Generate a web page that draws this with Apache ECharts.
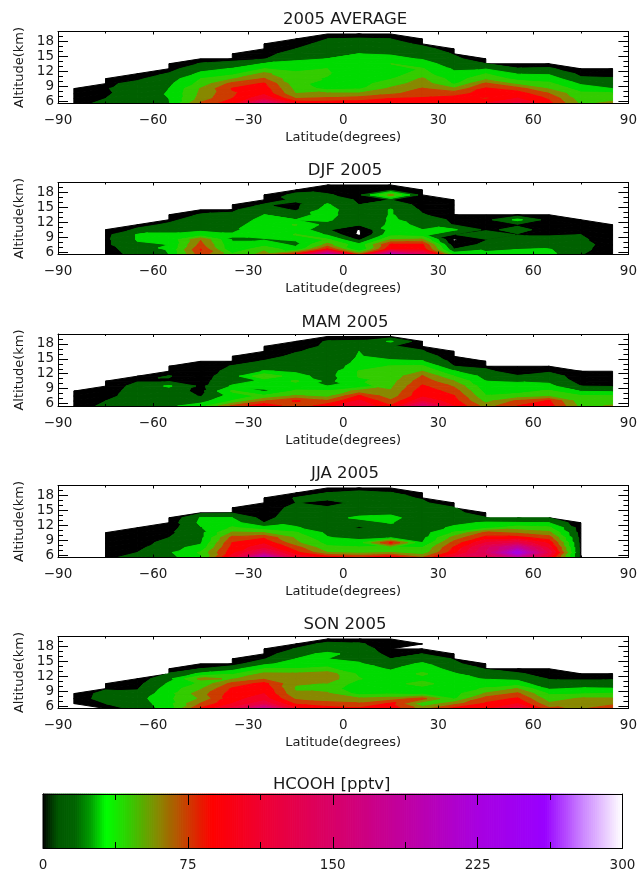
<!DOCTYPE html>
<html>
<head>
<meta charset="utf-8">
<style>html,body{margin:0;padding:0;background:#fff}#c{width:640px;height:872px}</style>
<script src="https://cdn.jsdelivr.net/npm/echarts@6/dist/echarts.min.js"></script>
</head>
<body>
<div id="c"></div>
<script>
// Latitude column centres and altitude levels of the retrieval grid
const latitudes = [-85,-75,-65,-55,-45,-35,-25,-15,-5,5,15,25,35,45,55,65,75,85];
const altitudes = [5.5,6.5,7.5,8.5,9.5,10.5,11.5,12.5,13.5,14.5,15.5,16.5,17.5,18.5,19.5];
const xTickLabels = [-90,-60,-30,0,30,60,90];
const yMajorTicks = [6,9,12,15,18];
const yMinorTicks = [6,7,8,9,10,11,12,13,14,15,16,17,18,19,20];
const barTicks = [0,75,150,225,300];

// HCOOH (pptv): one profile per latitude, lowest altitude first. Negative = below the scale.
const avgProfiles = [
 [10,8,7,5],
 [19,15,13,14,13,9],
 [24,24,23,22,18,13,8],
 [29,30,31,30,27,22,16,10,6],
 [78,66,63,61,50,45,33,25,16,9],
 [100,90,88,91,80,58,40,31,19,11,5],
 [165,118,102,98,92,76,64,45,31,14,10,7,5],
 [105,75,60,55,50,48,47,42,33,28,22,15,10,6],
 [100,78,62,40,38,44,46,45,35,30,27,24,20,15,9],
 [100,82,62,43,40,38,37,38,37,34,30,26,22,16,10],
 [98,90,72,63,52,44,40,42,45,33,29,25,21,15,8],
 [100,92,82,76,68,62,50,46,36,29,24,20,12,6],
 [105,95,85,62,43,38,33,28,23,18,14,8],
 [105,88,95,92,78,55,45,29,15,7],
 [125,106,98,82,55,40,29,16,8],
 [95,88,75,58,48,38,28,17,9],
 [57,52,48,38,28,17,12,7],
 [64,55,47,30,22,16,12,7]
];
const djfProfiles = [
 [],
 [8,10,12,12,11,6],
 [20,22,28,31,31,17,11],
 [30,31,30,33,31,28,17,12,8],
 [84,91,80,74,34,28,24,21,16,10],
 [48,33,32,29,31,28,25,22,17,13,7],
 [65,58,38,29,33,36,37,34,30,24,16,10,5],
 [95,35,27,31,46,40,46,30,24,13,12,17,19,9],
 [215,95,65,47,28,17,24,33,36,37,32,24,16,12,7],
 [75,30,34,12,-2,-1,16,15,18,17,15,13,11,9,6],
 [215,105,92,60,40,36,33,32,31,31,25,15,65,12,6],
 [150,100,92,62,35,30,28,24,16,13,10,9,7,5],
 [42,16,5,-2,14,32,14,12,8,6,5,4],
 [33,28,19,14,27,12,12,10,5],
 [33,30,26,30,14,19,13,34,7],
 [33,31,22,18,14,10,9,8,5],
 [16,20,22,18,15,11,8,5],
 [5,5,6,6,5,5,4]
];
const mamProfiles = [
 [4,4,4,3],
 [20,15,10,8,6,4],
 [24,24,23,22,20,14,8],
 [27,26,24,22,32,14,15.5,10,6],
 [38,24,14,11,12,11,10,9,7,5],
 [78,46,37,47,32,24,22,19,16,9,5],
 [105,74,48,28,33,33,58,31,22,16,10,7,4],
 [78,92,62,47,38,47,35,28,24,22,18,14,10,6],
 [100,78,55,46,30,26,24,22,21,20,20,19,17,16,8],
 [118,108,92,65,35,42,46,46,37,33,31,30,22,17,8],
 [92,78,66,61,57,54,50,47,46,33,24,18,16,32,8],
 [160,118,102,100,92,84,76,60,47,31,23,16,12,6],
 [105,96,91,83,73,60,45,31,15,11,7,5],
 [68,55,46,40,35,30,25,17,13,6],
 [90,78,50,40,33,29,16,10,5],
 [97,92,57,47,34,27,22,13,8],
 [55,50,47,29,15,10,8,5],
 [62,53,46,28,14,9,7,5]
];
const jjaProfiles = [
 [],
 [12,9,7,6,5,4],
 [20,15,11,9,7,5,4],
 [25,28,26,20,15,12,9,7,4],
 [42,47,34,28,26,26,29,33,31,12],
 [115,100,95,90,80,62,47,36,30,14,6],
 [215,150,115,102,88,60,35,15,10,8,6,5,4],
 [118,95,82,63,58,47,31,27,24,22,20,15,16,5],
 [100,60,48,40,31,27,25,24,24,20,16,12,17,15.5,8],
 [90,55,46,38,25,23,13,22,33,24,20,17,21,20,8],
 [105,60,47,93,29,24,23,31,35,26,22,21,18,16,8],
 [75,50,45,30,26,24,22,21,20,18,18,17,14,6],
 [125,100,92,80,66,47,33,26,22,19,16,7],
 [130,150,145,120,95,78,40,32,16,7],
 [180,240,190,135,95,72,52,31,15],
 [110,130,115,100,82,64,48,30,15],
 [10,10,10,10,10,9,8,5],
 []
];
const sonProfiles = [
 [null,5,6,5],
 [10,15,22,21,13,7],
 [18,21,24,18,14,11,7],
 [38,40,42,40,37,32,26,16,8],
 [92,76,62,68,58,48,64,33,15,8],
 [125,105,100,97,92,80,58,42,24,9,5],
 [185,130,112,105,102,95,72,63,45,26,14,9,5],
 [108,87,72,62,58,61,65,62,45,38,30,24,16,8],
 [98,78,70,62,54,59,68,68,48,40,30,34,21,19,7],
 [92,76,62,40,33,38,46,42,34,31,28,24,21,17,8],
 [100,92,66,43,36,40,36,33,29,24,15,11,9,7,5],
 [68,48,80,40,40,50,40,48,36,32,24,15,9,4],
 [95,68,43,40,37,36,34,31,26,18,14,6],
 [100,92,82,62,47,37,29,22,14,6],
 [130,105,92,78,60,36,27,17,8],
 [78,62,52,43,28,20,14,9,5],
 [72,68,62,44,32,18,14,5],
 [88,70,62,46,31,20,14,6]
];

const panelTitles = ['2005 AVERAGE','DJF 2005','MAM 2005','JJA 2005','SON 2005'];
const panelProfiles = [avgProfiles,djfProfiles,mamProfiles,jjaProfiles,sonProfiles];
// Grid cells [latitude, altitude] where the retrieval has no data
const gapCells = [
 [[-45,14.5],[45,13.5]],
 [[-45,14.5],[35,13.5]],
 [[-45,14.5],[45,13.5]],
 [[-45,14.5],[45,13.5]],
 [[-45,14.5],[45,13.5]]
];
const lowerRightGaps = [[],[],[],[],[[15,17.5]]];

// Colour table of the colour bar
const rampValues = [0,4,8,17,25,33,45,60,75,88,112,150,187,225,260,280,300];
const rampColors = ['#000000','#003000','#005800','#006400','#00a000','#00ff00','#33cc00','#888800','#cc3c00','#ff0000','#f00030','#d80068','#c000a0','#a800e0','#9900ff','#cc88ff','#ffffff'];
const contourStep = 15;

function hex(c){return [1,3,5].map(i=>parseInt(c.substr(i,2),16));}
function ramp(v){
  for(let i=1;i<rampValues.length;i++){
    if(v<=rampValues[i]){
      const t=(v-rampValues[i-1])/(rampValues[i]-rampValues[i-1]);
      const a=hex(rampColors[i-1]),b=hex(rampColors[i]);
      return 'rgb('+a.map((x,k)=>Math.round(x+(b[k]-x)*t)).join(',')+')';
    }
  }
  return '#ffffff';
}
function clip(poly,level,keepAbove){
  const out=[];
  for(let i=0;i<poly.length;i++){
    const p=poly[i],q=poly[(i+1)%poly.length];
    const pin=keepAbove?p[2]>=level:p[2]<=level;
    const qin=keepAbove?q[2]>=level:q[2]<=level;
    if(pin)out.push(p);
    if(pin!==qin){
      const t=(level-p[2])/(q[2]-p[2]);
      out.push([p[0]+(q[0]-p[0])*t,p[1]+(q[1]-p[1])*t,level]);
    }
  }
  return out;
}
function contourPolys(profiles,gaps,lrGaps){
  const polys=[];
  const val=(c,r)=>{const v=profiles[c]&&profiles[c][r];return v===undefined?null:v;};
  const pt=(c,r)=>[latitudes[c],altitudes[r],val(c,r)];
  const has=(list,c,r)=>list.some(g=>g[0]===latitudes[c]&&g[1]===altitudes[r]);
  const tris=[];
  for(let c=0;c<latitudes.length-1;c++){
    for(let r=0;r<altitudes.length-1;r++){
      if(has(gaps,c,r))continue;
      const a=pt(c,r),b=pt(c+1,r),d=pt(c,r+1),e=pt(c+1,r+1);
      const on=[a,b,e,d].filter(p=>p[2]!==null);
      if(on.length===3)tris.push(on);
      else if(on.length===4){
        if(has(lrGaps,c,r))tris.push([a,e,d]);
        else if(Math.abs(a[2]-e[2])<=Math.abs(b[2]-d[2])){tris.push([a,b,e]);tris.push([a,e,d]);}
        else{tris.push([a,b,d]);tris.push([b,e,d]);}
      }
    }
  }
  for(let lv=0;lv<300;lv+=contourStep){
    tris.forEach(t=>{
      const vs=t.map(p=>p[2]);
      if(Math.max(...vs)<lv||Math.min(...vs)>=lv+contourStep)return;
      let pg=clip(t,lv,true);
      if(pg.length)pg=clip(pg,lv+contourStep,false);
      if(pg.length>=3)polys.push({pts:pg,level:lv});
    });
  }
  return polys;
}

const panelLeft=58, panelWidth=574, panelHeight=72;
const panelTops=[31.5,182.5,334,485.5,636.5];
const font='"DejaVu Sans"';
const ink='#1a1a1a';
const lineStyle={color:'#000',width:1};
const grid=[],xAxis=[],yAxis=[],series=[],title=[];

panelTitles.forEach((name,i)=>{
  grid.push({left:panelLeft,width:panelWidth,top:panelTops[i],height:panelHeight,containLabel:false});
  title.push({text:name,left:panelLeft+panelWidth/2-5,top:panelTops[i]-25,textAlign:'center',
    textStyle:{fontFamily:font,fontSize:16.5,fontWeight:'normal',color:ink}});
  const xBase={gridIndex:i,type:'value',min:-90,max:90,interval:30,splitLine:{show:false},z:5,
    axisLine:{show:true,onZero:false,lineStyle},
    axisTick:{show:true,inside:true,length:3,lineStyle},
    minorTick:{show:true,splitNumber:2,length:2,lineStyle}};
  const xi=xAxis.length;
  xAxis.push(Object.assign({},xBase,{position:'bottom',name:'Latitude(degrees)',nameLocation:'middle',nameGap:28,
    nameTextStyle:{fontFamily:font,fontSize:13,color:ink},
    axisLabel:{fontFamily:font,fontSize:13.5,color:ink,margin:10,showMinLabel:true,showMaxLabel:true,
      formatter:v=>xTickLabels.includes(v)?String(v).replace('-','\u2212'):''}}));
  xAxis.push(Object.assign({},xBase,{position:'top',axisLabel:{show:false}}));
  const yBase={gridIndex:i,type:'value',min:5.5,max:20,splitLine:{show:false},z:5,axisLabel:{show:false}};
  const yi=yAxis.length;
  yAxis.push(Object.assign({},yBase,{position:'left',name:'Altitude(km)',nameLocation:'middle',nameGap:27,
    nameTextStyle:{fontFamily:font,fontSize:13,color:ink},
    axisLine:{show:true,onZero:false,lineStyle},
    axisTick:{show:true,inside:true,length:10,lineStyle,customValues:yMajorTicks},
    axisLabel:{show:true,fontFamily:font,fontSize:13.5,color:ink,margin:4,customValues:yMajorTicks}}));
  yAxis.push(Object.assign({},yBase,{position:'left',axisLine:{show:false,onZero:false},
    axisTick:{show:true,inside:true,length:5,lineStyle,customValues:yMinorTicks}}));
  yAxis.push(Object.assign({},yBase,{position:'right',axisLine:{show:true,onZero:false,lineStyle},
    axisTick:{show:true,inside:true,length:10,lineStyle,customValues:yMajorTicks}}));
  yAxis.push(Object.assign({},yBase,{position:'right',axisLine:{show:false,onZero:false},
    axisTick:{show:true,inside:true,length:5,lineStyle,customValues:yMinorTicks}}));
  const polys=contourPolys(panelProfiles[i],gapCells[i],lowerRightGaps[i]);
  series.push({type:'custom',coordinateSystem:'cartesian2d',xAxisIndex:xi,yAxisIndex:yi,silent:true,animation:false,z:1,clip:true,
    progressive:0,
    data:polys.map(p=>[p.pts[0][0],p.pts[0][1],p.level]),
    renderItem:(params,api)=>{
      const p=polys[params.dataIndex],col=ramp(p.level);
      return {type:'polygon',shape:{points:p.pts.map(q=>api.coord([q[0],q[1]]))},
        style:{fill:col,stroke:col,lineWidth:1,lineJoin:'round'}};
    }});
});

// Colour bar
const bi=panelTitles.length;
const barLeft=43,barWidth=579.5,barTop=794,barHeight=55;
grid.push({left:barLeft,width:barWidth,top:barTop,height:barHeight});
title.push({text:'HCOOH [pptv]',left:barLeft+barWidth/2-6,top:barTop-23,textAlign:'center',
  textStyle:{fontFamily:font,fontSize:16.5,fontWeight:'normal',color:ink}});
const barX={gridIndex:bi,type:'value',min:0,max:300,interval:75,splitLine:{show:false},z:5,
  axisLine:{show:true,onZero:false,lineStyle},
  axisTick:{show:true,inside:true,length:11,lineStyle},
  minorTick:{show:true,splitNumber:2,length:6,lineStyle}};
const bx=xAxis.length,by=yAxis.length;
xAxis.push(Object.assign({},barX,{position:'bottom',
  axisLabel:{fontFamily:font,fontSize:13.5,color:ink,margin:10,showMinLabel:true,showMaxLabel:true,
    formatter:v=>barTicks.includes(v)?String(v):''}}));
xAxis.push(Object.assign({},barX,{position:'top',axisLabel:{show:false}}));
const barY={gridIndex:bi,type:'value',min:0,max:1,splitLine:{show:false},z:5,axisLabel:{show:false},axisTick:{show:false},
  axisLine:{show:true,onZero:false,lineStyle}};
yAxis.push(Object.assign({},barY,{position:'left'}));
yAxis.push(Object.assign({},barY,{position:'right'}));
const barValues=[];for(let v=0;v<300;v++)barValues.push([v,v+1]);
series.push({type:'custom',coordinateSystem:'cartesian2d',xAxisIndex:bx,yAxisIndex:by,silent:true,animation:false,z:1,
  progressive:0,data:barValues,
  renderItem:(params,api)=>{
    const a=api.coord([api.value(0),0]),b=api.coord([api.value(1),1]);
    const col=ramp(api.value(0)+0.5);
    return {type:'rect',shape:{x:a[0],y:b[1],width:b[0]-a[0],height:a[1]-b[1]},style:{fill:col,stroke:col,lineWidth:1}};
  }});

const chart=echarts.init(document.getElementById('c'),null,{renderer:'canvas'});
chart.setOption({animation:false,backgroundColor:'#ffffff',title,grid,xAxis,yAxis,series});
</script>
</body>
</html>
